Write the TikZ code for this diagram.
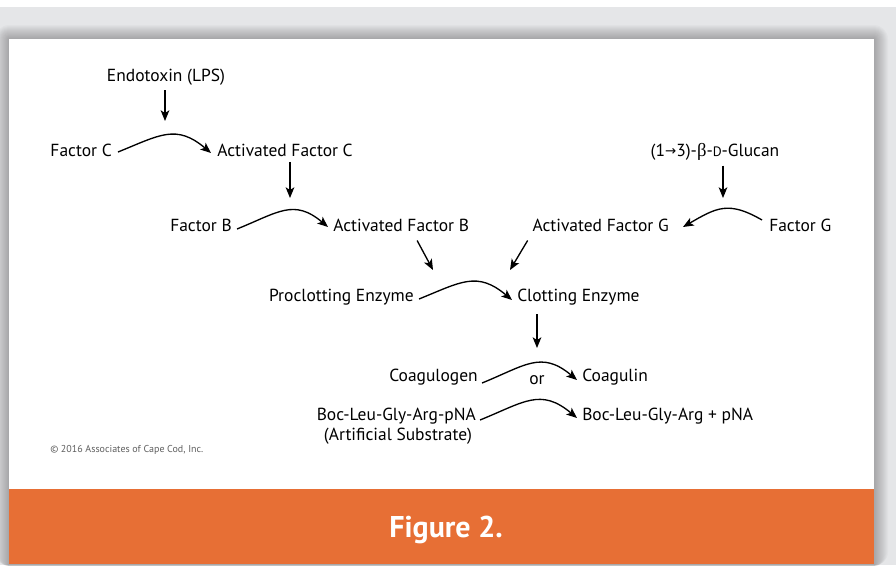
\documentclass[tikz,border=0pt]{standalone}
\usepackage{fontspec}
\setmainfont{PT Sans}
\newfontfamily\grkfont{Liberation Serif}
\newfontfamily\symfont{DejaVu Sans}
\usetikzlibrary{arrows.meta}
\definecolor{bggray}{RGB}{229,230,232}
\definecolor{bandorange}{RGB}{231,111,53}
\definecolor{copygray}{RGB}{95,95,95}
\begin{document}
\begin{tikzpicture}[x=0.75pt,y=-0.75pt,
  lbl/.style={inner sep=0pt,font=\fontsize{13.1}{15}\selectfont,text=black},
  arr/.style={line width=1pt,-{Stealth[length=8pt,width=6.5pt,inset=2pt]}},
  curv/.style={arr,looseness=1.25}]
% background and card
\useasboundingbox (0,0) rectangle (896,565);
\fill[white] (0,0) rectangle (896,565);
\fill[bggray] (0,7) rectangle (896,565);
\foreach \i in {14,13,...,1}{
  \fill[black,opacity=0.018,rounded corners=\i*0.75pt] (9-\i,39-\i) rectangle (874+\i,566);
}
\fill[white] (9,39) rectangle (874,489);
\fill[bandorange] (9,489) rectangle (874,564);
% nodes
\node[lbl,anchor=base] (endo) at (166,81) {Endotoxin (LPS)};
\node[lbl,anchor=base east] (fc) at (112,156) {Factor C};
\node[lbl,anchor=base west] (afc) at (217,156) {Activated Factor C};
\node[lbl,anchor=base] (glu) at (715,156) {(1{\symfont\fontsize{10}{10}\selectfont\raisebox{0.5pt}{→}}3)-{\grkfont\fontsize{14}{14}\selectfont β}-\scalebox{0.78}{D}-Glucan};
\node[lbl,anchor=base east] (fb) at (232,231) {Factor B};
\node[lbl,anchor=base west] (afb) at (333,231) {Activated Factor B};
\node[lbl,anchor=base east] (afg) at (669,231) {Activated Factor G};
\node[lbl,anchor=base west] (fg) at (769,231) {Factor G};
\node[lbl,anchor=base east] (pce) at (414,301) {Proclotting Enzyme};
\node[lbl,anchor=base west] (ce) at (517,301) {Clotting Enzyme};
\node[lbl,anchor=base east] (cgn) at (478,381) {Coagulogen};
\node[lbl,anchor=base] (or) at (537,384) {or};
\node[lbl,anchor=base west] (cgl) at (582,381) {Coagulin};
\node[lbl,anchor=base east] (boc) at (476,420) {Boc-Leu-Gly-Arg-pNA};
\node[lbl,anchor=base] (art) at (398,440) {(Artificial Substrate)};
\node[lbl,anchor=base west] (bocp) at (582,420) {Boc-Leu-Gly-Arg + pNA};
\node[inner sep=0pt,anchor=base west,font=\fontsize{7.5}{9}\selectfont,text=copygray] (copy) at (50,452) {© 2016 Associates of Cape Cod, Inc.};
\node[inner sep=0pt,anchor=base,font=\fontsize{22.5}{26}\selectfont\bfseries,text=white] (fig) at (446,537) {Figure 2.};
% arrow end coordinates
\coordinate (endoEnd) at (165,121);
\coordinate (afcEnd) at (290,198);
\coordinate (gluEnd) at (723,198);
\coordinate (afbEnd) at (433,270);
\coordinate (afgEnd) at (510,270);
\coordinate (ceEnd) at (537,348);
% vertical / diagonal arrows
\draw[arr] ([yshift=-4pt]endo.south -| endoEnd) -- (endoEnd);
\draw[arr] ([yshift=-4pt]afc.south -| afcEnd) -- (afcEnd);
\draw[arr] ([yshift=-4pt]glu.south -| gluEnd) -- (gluEnd);
\draw[arr] ([shift={(16,9)}]afb.south) -- (afbEnd);
\draw[arr] ([shift={(-73,9)}]afg.south) -- (afgEnd);
\draw[arr] ([yshift=-7pt]ce.south -| ceEnd) -- (ceEnd);
% curved arrows
\draw[curv] ([shift={(6,-4)}]fc.base east) to[out=22,in=140] ([shift={(-6,-3)}]afc.base west);
\draw[curv] ([shift={(5,-2)}]fb.base east) to[out=22,in=140] ([shift={(-5,-4)}]afb.base west);
\draw[curv] ([shift={(-7,-11)}]fg.base west) to[out=150,in=30] ([shift={(14,-4)}]afg.base east);
\draw[curv] ([shift={(5,-2)}]pce.base east) to[out=22,in=140] ([shift={(-5,-1)}]ce.base west);
\draw[curv] ([shift={(4,2)}]cgn.base east) to[out=22,in=140] ([shift={(-5,-1)}]cgl.base west);
\draw[curv] ([shift={(4,0)}]boc.base east) to[out=22,in=140] ([shift={(-5,-2)}]bocp.base west);
\end{tikzpicture}
\end{document}
